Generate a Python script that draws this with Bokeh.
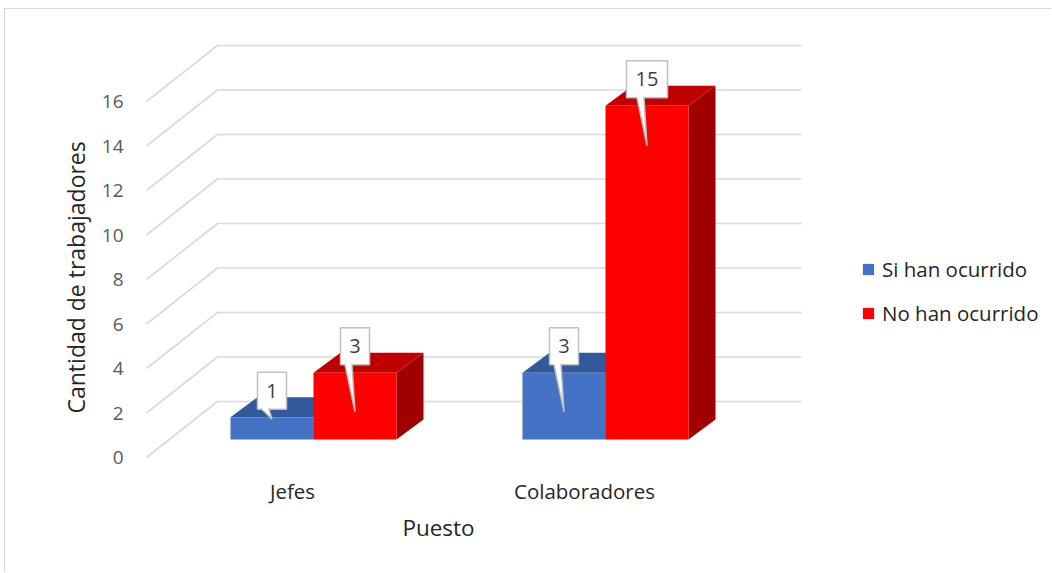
import math
from bokeh.plotting import figure
from bokeh.models import Range1d, FixedTicker, Legend, LegendItem, Title
from bokeh.core.properties import value
from bokeh.embed import file_html
from bokeh.resources import INLINE

# ---------------- data ----------------
categories = ["Jefes", "Colaboradores"]
series_names = ["Si han ocurrido", "No han ocurrido"]
si_values = [1, 3]
no_values = [3, 15]
y_ticks = [0, 2, 4, 6, 8, 10, 12, 14, 16]
x_title = "Puesto"
y_title = "Cantidad de trabajadores"

# ---------------- style / layout ----------------
FONT = "Open Sans"
front_colors = ["#4472C4", "#FF0000"]
top_colors = ["#32599B", "#C00000"]
side_colors = ["#2A4C86", "#A00000"]
GRID_COLOR = "#D9D9D9"

W, H = 1047, 564          # canvas size
OFF_X, OFF_Y = 5, 9       # canvas origin in window
FRAME_L = 130             # frame left (window px)
X0, PX = 146, 292.0       # window px of x=0, px per category
Y0, PY = 457, 22.25       # window px of value 0 (front plane), px per unit

FLOOR_DX, FLOOR_DY = 71, 56       # full depth of the floor/walls (px)
BAR_FDX, BAR_FDY = 23, 18         # bar front-face depth shift (px)
BAR_DX, BAR_DY = 27, 20           # bar depth (px)
GAP_PX, BAR_W_PX = 61, 83         # gap before group, bar width (px)
CALLOUT_GAP, CALLOUT_H = 8, 37
pointer_len_px = [10, 47, 47, 48]  # per callout (series-major order)
Y_TITLE_START = 413                # window px where the y title starts (bottom)


def ux(px):
    return px / PX


def uy(px):
    return px / PY


x_range = Range1d((FRAME_L - X0) / PX, (OFF_X + W - X0) / PX)
y_range = Range1d((Y0 - (OFF_Y + H)) / PY, (Y0 - OFF_Y) / PY)

p = figure(width=W, height=H, x_range=x_range, y_range=y_range,
           output_backend="svg", toolbar_location=None,
           x_axis_location=None, y_axis_location="left",
           min_border_left=FRAME_L - OFF_X, min_border_right=0,
           min_border_top=0, min_border_bottom=0)
p.styles = {"margin-left": "4px", "margin-top": "8px",
            "border-left": "1px solid #D9D9D9", "border-top": "1px solid #D9D9D9"}
p.outline_line_color = None
p.grid.visible = False
p.background_fill_color = "white"
p.border_fill_color = "white"

# y axis (front plane)
ya = p.yaxis[0]
ya.ticker = FixedTicker(ticks=y_ticks)
ya.axis_line_color = None
ya.major_tick_line_color = None
ya.minor_tick_line_color = None
ya.major_tick_out = 0
ya.major_tick_in = 0
ya.major_label_standoff = 7
ya.major_label_text_font = FONT
ya.major_label_text_font_size = "19px"
ya.major_label_text_color = "#595959"

# y axis title
p.add_layout(Title(text=y_title, align="left",
                   offset=(OFF_Y + H) - Y_TITLE_START,
                   standoff=13, text_font=FONT, text_font_size="23px",
                   text_font_style="normal", text_color="#262626"), "left")

# gridlines: side wall diagonals + back wall horizontals
fdx, fdy = ux(FLOOR_DX), uy(FLOOR_DY)
n = len(categories)
gx, gy = [], []
for v in y_ticks:
    gx.append([0, fdx, n + fdx])
    gy.append([v, v + fdy, v + fdy])
p.multi_line(gx, gy, line_color=GRID_COLOR, line_width=1.6)

# bars
series_values = [si_values, no_values]
g, w = ux(GAP_PX), ux(BAR_W_PX)
bfdx, bfdy = ux(BAR_FDX), uy(BAR_FDY)
bdx, bdy = ux(BAR_DX), uy(BAR_DY)
front_renderers = []
callouts = []
for j, vals in enumerate(series_values):
    fxs, fys, sxs, sys_, cols = [], [], [], [], []
    for i, v in enumerate(vals):
        x0 = i + g + j * w + bfdx
        x1 = x0 + w
        yb = bfdy
        yt = bfdy + v
        sxs.append([x1, x1 + bdx, x1 + bdx, x1])
        sys_.append([yb, yb + bdy, yt + bdy, yt])
        cols.append(side_colors[j])
        sxs.append([x0, x1, x1 + bdx, x0 + bdx])
        sys_.append([yt, yt, yt + bdy, yt + bdy])
        cols.append(top_colors[j])
        fxs.append([x0, x1, x1, x0])
        fys.append([yb, yb, yt, yt])
        callouts.append(((x0 + x1) / 2, yt, str(v)))
    p.patches(sxs, sys_, fill_color=cols, line_color=None)
    r = p.patches(fxs, fys, fill_color=front_colors[j], line_color=None)
    front_renderers.append(r)

# data-label callouts
bx, by, bw, tt = [], [], [], []
pxs, pys, jx0, jx1, jy = [], [], [], [], []
for k, (cx, top, lab) in enumerate(callouts):
    bottom = top + uy(CALLOUT_GAP)
    cy = bottom + uy(CALLOUT_H / 2)
    bx.append(cx)
    by.append(cy)
    bw.append(17 + 12 * len(lab))
    tt.append(lab)
    pxs.append([cx - ux(10), cx, cx - ux(3)])
    pys.append([bottom, bottom - uy(pointer_len_px[k]), bottom])
    jx0.append(cx - ux(9.3))
    jx1.append(cx - ux(3.7))
    jy.append(bottom)
p.rect(x=bx, y=by, width=bw, height=CALLOUT_H, width_units="screen",
       height_units="screen", fill_color="white", line_color="#BFBFBF", line_width=1.5)
p.patches(pxs, pys, fill_color="white", line_color="#BFBFBF", line_width=1.5)
p.segment(x0=jx0, y0=jy, x1=jx1, y1=jy, line_color="white", line_width=2.5)
p.text(x=bx, y=by, text=tt, text_align="center", text_baseline="middle",
       text_font=value(FONT), text_font_size="20px", text_color="#404040")

# category labels (front plane, under each group)
p.text(x=[i + 0.5 for i in range(n)], y=[(Y0 - 490) / PY] * n, text=categories,
       text_align="center", text_baseline="middle", text_font=value(FONT),
       text_font_size="20.5px", text_color="#262626")
# x axis title
p.text(x=[n / 2], y=[(Y0 - 527) / PY], text=[x_title], text_align="center",
       text_baseline="middle", text_font=value(FONT), text_font_size="22.5px",
       text_color="#262626")

legend = Legend(items=[LegendItem(label=series_names[j], renderers=[front_renderers[j]])
                       for j in range(2)],
                location=(861 - FRAME_L, 573 - 327), orientation="vertical",
                glyph_width=14, glyph_height=14, label_standoff=7, spacing=16,
                padding=0, margin=0, label_height=28,
                label_text_font=FONT, label_text_font_size="20.5px",
                label_text_color="#262626", border_line_alpha=0,
                background_fill_alpha=0)
p.add_layout(legend)

open("out.html", "w").write(file_html(p, INLINE))
